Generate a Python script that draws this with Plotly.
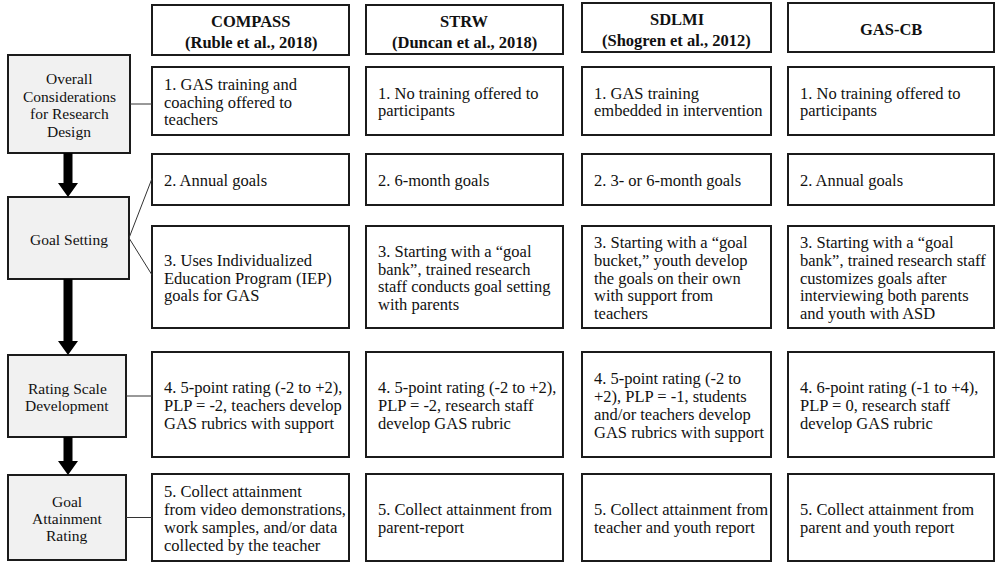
import plotly.graph_objects as go

# ---------------- data (text content) ----------------
stage_labels = [
    ["Overall", "Considerations", "for Research", "Design"],
    ["Goal Setting"],
    ["Rating Scale", "Development"],
    ["Goal", "Attainment", "Rating"],
]
column_headers = [
    ["COMPASS", "(Ruble et al., 2018)"],
    ["STRW", "(Duncan et al., 2018)"],
    ["SDLMI", "(Shogren et al., 2012)"],
    ["GAS-CB"],
]
compass_cells = [
    ["1. GAS training and", "coaching offered to", "teachers"],
    ["2. Annual goals"],
    ["3. Uses Individualized", "Education Program (IEP)", "goals for GAS"],
    ["4. 5-point rating (-2 to +2),", "PLP = -2, teachers develop", "GAS rubrics with support"],
    ["5. Collect attainment", "from video demonstrations,", "work samples, and/or data", "collected by the teacher"],
]
strw_cells = [
    ["1. No training offered to", "participants"],
    ["2. 6-month goals"],
    ["3. Starting with a \u201cgoal", "bank\u201d, trained research", "staff conducts goal setting", "with parents"],
    ["4. 5-point rating (-2 to +2),", "PLP = -2, research staff", "develop GAS rubric"],
    ["5. Collect attainment from", "parent-report"],
]
sdlmi_cells = [
    ["1. GAS training", "embedded in intervention"],
    ["2. 3- or 6-month goals"],
    ["3. Starting with a \u201cgoal", "bucket,\u201d youth develop", "the goals on their own", "with support from", "teachers"],
    ["4. 5-point rating (-2 to", "+2), PLP = -1, students", "and/or teachers develop", "GAS rubrics with support"],
    ["5. Collect attainment from", "teacher and youth report"],
]
gascb_cells = [
    ["1. No training offered to", "participants"],
    ["2. Annual goals"],
    ["3. Starting with a \u201cgoal", "bank\u201d, trained research staff", "customizes goals after", "interviewing both parents", "and youth with ASD"],
    ["4. 6-point rating (-1 to +4),", "PLP = 0, research staff", "develop GAS rubric"],
    ["5. Collect attainment from", "parent and youth report"],
]
columns = [compass_cells, strw_cells, sdlmi_cells, gascb_cells]

# ---------------- layout (pixel geometry) ----------------
col_x = [(152, 349), (366, 563), (582, 771), (788, 994)]
header_y = [(5, 55), (5, 54), (3, 52), (3, 52)]
row_y = [(67, 135), (154, 205), (226, 328), (352, 457), (474, 561)]
stage_box = [(8, 130, 55, 153), (8, 129, 197, 279), (8, 126, 355, 437), (8, 126, 475, 560)]
stage_targets = [[0], [1, 2], [3], [4]]   # content rows connected to each stage

FONT = "Liberation Serif"
LINE_H = 17.8
TEXT_PAD = 10
INK = "#1b1b1b"

shapes = []
annotations = []


def add_lines(lines, x, yc, anchor, size, bold=False, spacing=LINE_H):
    n = len(lines)
    for i, ln in enumerate(lines):
        y = yc + (i - (n - 1) / 2) * spacing
        txt = f"<b>{ln}</b>" if bold else ln
        annotations.append(dict(x=x, y=y, xref="x", yref="y", text=txt, showarrow=False,
                                xanchor=anchor, yanchor="middle",
                                font=dict(family=FONT, size=size, color="#111")))


# header boxes
for (x0, x1), (y0, y1), hdr in zip(col_x, header_y, column_headers):
    shapes.append(dict(type="rect", x0=x0, x1=x1, y0=y0, y1=y1, xref="x", yref="y",
                       line=dict(color=INK, width=2), fillcolor="white"))
    add_lines(hdr, (x0 + x1) / 2, (y0 + y1) / 2 + 2, "center", 16.5, bold=True, spacing=21)

# content boxes
for (x0, x1), cells in zip(col_x, columns):
    for (y0, y1), lines in zip(row_y, cells):
        shapes.append(dict(type="rect", x0=x0, x1=x1, y0=y0, y1=y1, xref="x", yref="y",
                           line=dict(color=INK, width=2), fillcolor="white"))
        add_lines(lines, x0 + TEXT_PAD, (y0 + y1) / 2 + 1, "left", 16.5)

# stage boxes, connectors
for (x0, x1, y0, y1), lbl, tg in zip(stage_box, stage_labels, stage_targets):
    shapes.append(dict(type="rect", x0=x0, x1=x1, y0=y0, y1=y1, xref="x", yref="y",
                       line=dict(color=INK, width=2), fillcolor="#f1f1f1"))
    add_lines(lbl, (x0 + x1) / 2, (y0 + y1) / 2 + 1, "center", 15.5, spacing=17.4)
    yc = (y0 + y1) / 2
    for r in tg:
        if len(tg) == 1:
            ty = yc
        else:
            ty = row_y[r][0] + 0.48 * (row_y[r][1] - row_y[r][0])
        shapes.append(dict(type="line", x0=x1, x1=col_x[0][0], y0=yc, y1=ty, xref="x", yref="y",
                           line=dict(color="#333", width=1)))

# thick down arrows between stage boxes
ax = 68
for a, b in zip(stage_box[:-1], stage_box[1:]):
    ys, ye = a[3], b[2]
    hh = 14
    path = (f"M {ax-4.5} {ys} L {ax+4.5} {ys} L {ax+4.5} {ye-hh} L {ax+10} {ye-hh} "
            f"L {ax} {ye} L {ax-10} {ye-hh} L {ax-4.5} {ye-hh} Z")
    shapes.append(dict(type="path", path=path, xref="x", yref="y",
                       fillcolor="#000", line=dict(color="#000", width=0)))

fig = go.Figure()
fig.update_layout(
    width=1000, height=566,
    margin=dict(l=0, r=0, t=0, b=0),
    paper_bgcolor="white", plot_bgcolor="white",
    xaxis=dict(range=[0, 1000], visible=False, fixedrange=True),
    yaxis=dict(range=[566, 0], visible=False, fixedrange=True),
    shapes=shapes, annotations=annotations, showlegend=False,
)
fig.write_html("out.html", config={"displayModeBar": False},
               post_script="document.body.style.margin='0';document.body.style.overflow='hidden';")
